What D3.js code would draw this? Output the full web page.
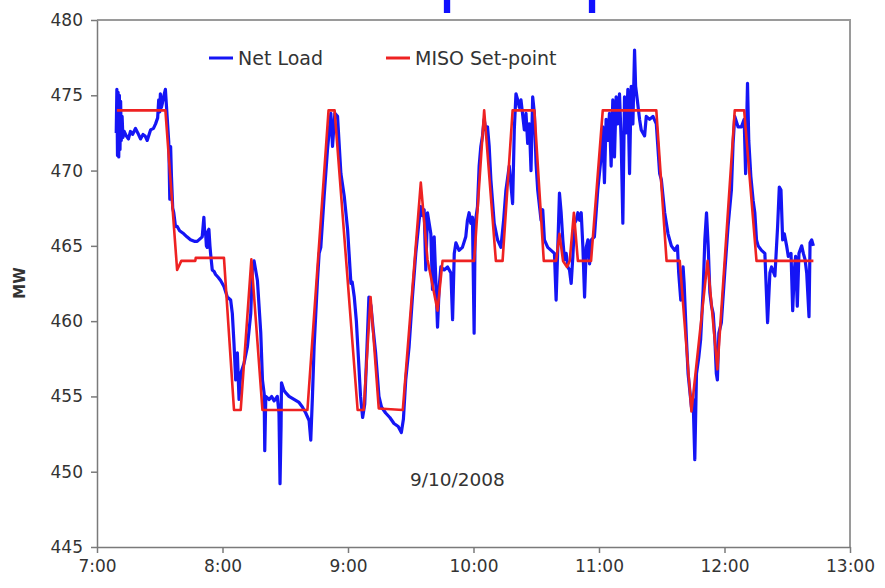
<!DOCTYPE html>
<html>
<head>
<meta charset="utf-8">
<script src="https://cdn.jsdelivr.net/npm/d3@7"></script>
<style>
body { margin: 0; background: #fff; }
svg { display: block; font-family: "DejaVu Sans", sans-serif; }
.axis path, .axis line { stroke: #7a7a7a; stroke-width: 1.5; }
.axis text { font-size: 17px; fill: #333; }
.line { fill: none; stroke-linejoin: round; }
</style>
</head>
<body>
<svg id="chart" width="885" height="588"></svg>
<script>
// times are minutes after midnight, values in MW
var netLoad = [
	[429.2,472.5],[429.5,475.4],[429.8,471.0],[430.1,475.2],[430.4,470.9],[430.7,475.0],[431.0,471.4],[431.3,474.6],
	[431.6,472.0],[432.0,473.6],[432.4,472.2],[433.0,472.6],[434.0,472.3],[435.0,472.1],[436.0,472.6],[437.0,472.4],
	[438.4,472.8],[439.5,472.5],[440.8,472.1],[442.0,472.4],[443.0,472.3],[444.0,472.0],[445.6,472.7],[447.0,472.8],
	[448.0,473.1],[449.0,473.5],[449.5,474.7],[450.0,473.9],[450.3,475.1],[450.8,474.2],[451.3,474.5],[452.0,475.0],
	[452.7,475.4],[453.2,474.3],[453.8,473.0],[454.3,471.9],[454.8,468.1],[455.2,471.6],[455.6,469.6],[456.2,467.5],
	[456.7,467.2],[457.5,466.3],[458.3,466.3],[459.5,466.0],[461.5,465.8],[463.0,465.6],[464.7,465.4],[466.5,465.3],
	[467.9,465.3],[469.5,465.5],[470.3,465.6],[471.1,466.9],[471.5,465.8],[471.9,465.9],[472.3,465.0],[472.7,464.9],
	[473.1,466.0],[473.5,466.1],[474.0,465.0],[474.3,464.5],[475.1,463.4],[476.0,463.3],[476.7,463.1],[478.0,462.9],
	[479.1,462.7],[480.7,462.3],[482.3,461.6],[483.9,461.4],[484.7,460.5],[485.5,458.5],[486.3,456.1],[487.1,457.9],
	[487.9,454.8],[488.7,456.5],[490.3,457.2],[491.9,458.3],[493.5,460.5],[494.3,463.6],[495.1,464.0],[496.7,462.7],
	[498.3,459.2],[499.1,456.1],[499.9,455.2],[500.2,451.4],[500.7,455.0],[502.3,454.8],[503.5,455.0],[504.7,454.7],
	[506.2,455.0],[507.0,453.9],[507.5,449.2],[508.0,453.0],[508.2,455.9],[509.4,455.4],[510.5,455.2],[511.8,455.0],
	[513.0,454.9],[514.2,454.8],[516.6,454.6],[518.2,454.3],[519.8,453.9],[521.4,453.4],[522.2,452.1],[523.0,455.0],
	[523.8,458.3],[525.4,462.7],[526.2,464.5],[527.0,464.9],[528.6,468.3],[530.2,471.4],[531.8,473.8],[532.6,471.6],
	[533.7,473.8],[535.0,473.6],[536.6,469.8],[538.2,468.3],[539.8,466.1],[541.4,462.5],[542.0,462.6],[543.0,461.6],
	[544.0,460.0],[545.0,457.5],[546.0,455.0],[547.0,453.6],[548.0,454.5],[549.0,458.0],[550.0,461.6],[551.0,461.0],
	[552.0,459.5],[553.2,457.9],[554.8,455.0],[556.0,454.3],[558.0,453.9],[560.0,453.6],[562.0,453.2],[564.0,453.0],
	[565.5,452.6],[566.5,453.5],[567.6,456.1],[569.2,458.3],[570.8,461.6],[572.4,464.5],[574.0,466.7],[574.8,467.6],
	[575.6,467.0],[576.4,467.4],[577.2,463.4],[578.0,467.2],[579.6,465.8],[580.4,462.1],[581.2,465.6],[582.0,462.7],
	[582.8,459.6],[583.6,462.3],[584.4,463.6],[586.0,463.4],[587.6,463.6],[589.2,463.2],[590.0,460.1],[590.8,464.5],
	[591.6,465.2],[593.1,464.7],[594.7,464.9],[596.3,465.6],[597.1,466.7],[597.9,467.2],[598.7,466.5],[599.5,466.9],
	[600.3,459.2],[600.8,466.5],[601.9,467.6],[602.7,470.3],[603.5,471.6],[604.3,472.3],[605.1,473.4],[605.9,472.7],
	[606.7,472.9],[607.5,471.6],[608.3,469.4],[609.9,466.5],[611.5,465.4],[613.1,464.9],[614.4,466.7],[615.5,468.7],
	[617.1,470.3],[618.7,467.8],[619.5,472.7],[620.3,475.1],[621.1,474.7],[621.9,474.2],[622.7,474.7],[624.3,472.7],
	[625.1,473.8],[625.9,471.8],[626.7,473.1],[627.5,470.0],[628.3,474.9],[629.1,473.8],[629.9,470.5],[630.7,468.7],
	[632.3,466.7],[633.1,467.4],[633.9,465.4],[635.5,464.9],[637.1,464.7],[638.7,464.5],[639.5,461.4],[640.3,464.9],
	[641.1,468.5],[641.9,467.2],[642.7,465.4],[643.5,464.1],[644.3,464.5],[645.1,463.6],[645.9,463.4],[646.7,462.5],
	[647.5,464.3],[648.3,466.5],[649.1,466.7],[649.9,467.2],[650.7,466.7],[651.5,467.2],[652.3,464.9],[653.1,461.6],
	[653.9,464.9],[654.7,465.4],[655.5,463.8],[656.3,465.4],[657.8,465.6],[659.4,468.7],[661.0,470.9],[661.8,472.9],
	[662.6,469.2],[663.4,473.4],[664.2,472.0],[665.0,473.8],[665.8,470.3],[666.6,474.7],[667.4,470.9],[668.2,474.9],
	[669.0,473.1],[669.8,475.1],[670.6,472.0],[671.4,466.5],[672.2,474.9],[673.0,472.5],[673.8,475.4],[674.6,469.8],
	[675.4,475.6],[676.2,473.1],[677.0,478.0],[677.5,475.6],[678.3,474.7],[679.4,473.4],[680.2,472.7],[681.8,472.3],
	[682.6,473.6],[684.2,473.4],[685.8,473.6],[687.4,473.1],[689.0,469.8],[689.8,469.4],[691.4,467.2],[693.0,465.8],
	[694.6,465.0],[696.2,464.7],[697.5,465.0],[698.1,463.2],[699.1,461.4],[700.2,463.6],[700.7,462.5],[701.8,458.8],
	[702.6,456.5],[703.4,455.4],[704.2,454.3],[705.0,454.8],[705.8,450.8],[706.6,456.5],[707.7,457.6],[708.6,458.8],
	[709.8,462.1],[710.6,465.4],[711.4,467.2],[712.2,465.0],[713.0,461.9],[713.8,461.0],[714.6,460.5],[715.4,458.8],
	[716.1,456.5],[716.6,456.1],[717.3,459.2],[718.5,459.9],[720.1,463.2],[721.7,466.3],[723.3,468.7],[724.1,471.8],
	[724.9,473.6],[726.5,472.9],[728.1,472.9],[729.4,473.4],[730.1,469.8],[731.0,475.8],[731.6,472.0],[732.6,469.6],
	[733.7,468.0],[734.5,467.2],[735.3,465.4],[736.1,465.0],[737.7,464.7],[739.3,464.5],[740.6,459.9],[741.7,463.2],
	[742.5,463.6],[744.1,463.0],[745.4,466.3],[746.2,468.9],[747.0,468.7],[747.8,465.4],[748.6,465.8],[749.7,465.0],
	[750.5,464.3],[751.8,464.5],[752.6,460.7],[753.4,463.4],[754.0,464.3],[754.8,461.0],[755.6,464.5],[756.9,465.0],
	[757.7,464.5],[758.5,464.1],[759.3,463.2],[760.4,460.3],[760.9,465.2],[761.7,465.4],[762.5,465.0]
];

var setPoint = [
	[429.5,474.0],[452.7,474.0],[458.3,463.4],[460.3,464.0],[467.0,464.0],[467.2,464.2],[480.7,464.2],[485.5,454.1],
	[488.7,454.1],[493.8,464.1],[499.1,454.1],[520.6,454.1],[530.7,474.0],[533.6,474.0],[544.6,454.1],[547.5,454.1],
	[550.8,461.6],[554.7,454.2],[566.2,454.1],[574.8,469.2],[578.0,464.1],[582.8,460.7],[585.2,464.0],[600.3,464.0],
	[605.1,474.0],[610.7,464.0],[613.9,464.0],[618.7,474.0],[629.1,474.0],[633.6,464.0],[639.5,464.0],[641.1,465.8],
	[642.8,464.0],[644.7,463.6],[646.0,464.0],[648.0,467.2],[649.9,464.0],[656.2,464.0],[661.8,474.0],[687.4,474.0],
	[692.3,464.0],[698.6,464.0],[704.2,454.0],[711.9,464.0],[716.6,456.8],[724.9,474.0],[729.4,474.0],[735.3,464.0],
	[762.5,464.0]
];

var hourTicks = [420, 480, 540, 600, 660, 720, 780];
var mwTicks = [445, 450, 455, 460, 465, 470, 475, 480];
var seriesNames = ["Net Load", "MISO Set-point"];
var seriesColors = ["#1515f5", "#ee2222"];
var dateLabel = "9/10/2008";
var yLabel = "MW";

var day = new Date(2008, 8, 10);
function at(m) { return new Date(+day + m * 60000); }

var padL = 97, padR = 850, padT = 20, padB = 547;

var svg = d3.select("#chart");

var x = d3.scaleTime().domain([at(420), at(780)]).range([padL, padR]);
var y = d3.scaleLinear().domain([445, 480]).range([padB, padT]);

// cut-off blue title above the chart
svg.selectAll(".title-bit")
	.data(["p", "p"])
	.enter()
	.append("text")
	.attr("class", "title-bit")
	.attr("x", function(d, i) { return i ? 582.5 : 437.5; })
	.attr("y", -1)
	.attr("font-size", 70)
	.attr("fill", "#1010ff")
	.text(function(d) { return d; });

// plot frame (top and right)
svg.append("path")
	.attr("d", "M" + padL + "," + padT + "H" + padR + "V" + padB)
	.attr("fill", "none")
	.attr("stroke", "#9a9a9a")
	.attr("stroke-width", 2);

var xAxis = d3.axisBottom(x)
	.tickValues(hourTicks.map(at))
	.tickFormat(d3.timeFormat("%-H:%M"))
	.tickSize(6)
	.tickSizeOuter(0)
	.tickPadding(7);

var yAxis = d3.axisLeft(y)
	.tickValues(mwTicks)
	.tickSize(6)
	.tickSizeOuter(0)
	.tickPadding(8);

svg.append("g")
	.attr("class", "axis")
	.attr("transform", "translate(0," + padB + ")")
	.call(xAxis);

svg.append("g")
	.attr("class", "axis")
	.attr("transform", "translate(" + padL + ",0)")
	.call(yAxis);

svg.selectAll(".axis text").attr("font-family", "DejaVu Sans");

svg.append("text")
	.attr("transform", "translate(25,283) rotate(-90)")
	.attr("text-anchor", "middle")
	.attr("font-size", 15)
	.attr("font-weight", "bold")
	.attr("fill", "#333")
	.text(yLabel);

var line = d3.line()
	.x(function(d) { return x(at(d[0])); })
	.y(function(d) { return y(d[1]); });

svg.append("path")
	.datum(netLoad)
	.attr("class", "line")
	.attr("stroke", seriesColors[0])
	.attr("stroke-width", 3.2)
	.attr("d", line);

svg.append("path")
	.datum(setPoint)
	.attr("class", "line")
	.attr("stroke", seriesColors[1])
	.attr("stroke-width", 2.6)
	.attr("d", line);

// legend
var legend = svg.selectAll(".legend")
	.data(seriesNames)
	.enter()
	.append("g")
	.attr("class", "legend")
	.attr("transform", function(d, i) { return "translate(" + (i ? 386 : 209) + ",58)"; });

legend.append("line")
	.attr("x1", 0)
	.attr("x2", 24)
	.attr("stroke", function(d, i) { return seriesColors[i]; })
	.attr("stroke-width", 3);

legend.append("text")
	.attr("x", 29)
	.attr("y", 7)
	.attr("font-size", 19)
	.attr("fill", "#333")
	.text(function(d) { return d; });

svg.append("text")
	.attr("x", 410)
	.attr("y", 486)
	.attr("font-size", 18.5)
	.attr("fill", "#333")
	.text(dateLabel);
</script>
</body>
</html>
